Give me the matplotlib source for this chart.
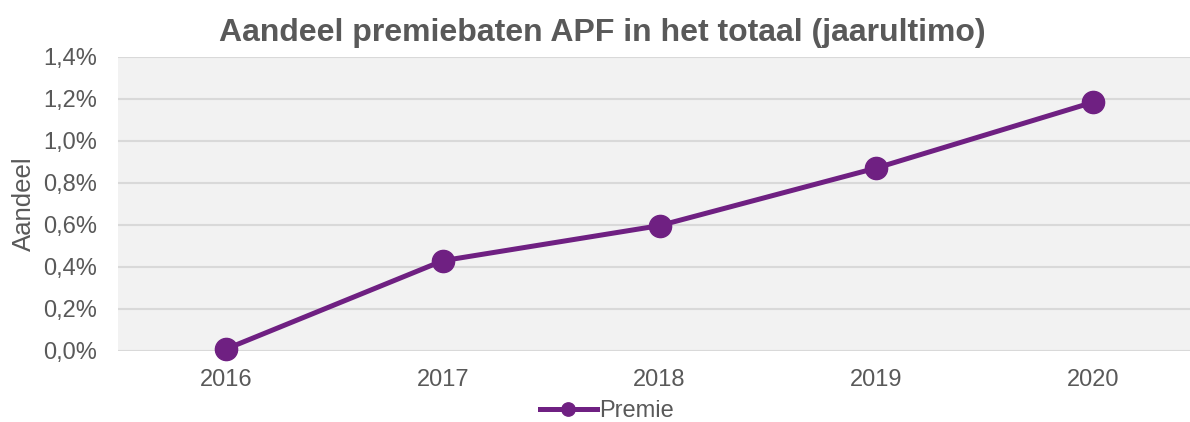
import matplotlib
matplotlib.use("Agg")
import matplotlib.pyplot as plt
from matplotlib.ticker import FuncFormatter

years = ["2016", "2017", "2018", "2019", "2020"]
premie = [0.01, 0.43, 0.597, 0.871, 1.184]
yticks = [0.0, 0.2, 0.4, 0.6, 0.8, 1.0, 1.2, 1.4]

plt.rcParams['font.family'] = ['Liberation Sans', 'DejaVu Sans']
grey = "#595959"
purple = "#6f2082"

fig = plt.figure(figsize=(11.9, 4.22), dpi=100)
ax = fig.add_axes([118/1190, 71/422, 1083/1190, 294/422])
ax.set_facecolor("#f2f2f2")

x = list(range(len(years)))
ax.plot(x, premie, color=purple, lw=3.6, marker="o", ms=16, label="Premie", zorder=3, clip_on=False)

ax.set_xlim(-0.5, len(years) - 0.5)
ax.set_ylim(0, 1.4)
ax.set_yticks(yticks)
ax.yaxis.set_major_formatter(FuncFormatter(lambda v, p: f"{v:.1f}%".replace(".", ",")))
ax.set_xticks(x)
ax.set_xticklabels(years)
ax.grid(axis="y", color="#d9d9d9", lw=1.5)
ax.set_axisbelow(True)
for s in ax.spines.values():
    s.set_visible(False)
ax.tick_params(length=0, labelsize=17, colors=grey)
ax.tick_params(axis="y", pad=15)
ax.tick_params(axis="x", pad=13)
ax.set_ylabel("Aandeel", fontsize=18.5, color=grey, labelpad=5)

fig.text(602/1190, 1 - 33/422, "Aandeel premiebaten APF in het totaal (jaarultimo)",
         ha="center", va="center", fontsize=23, fontweight="bold", color=grey)

leg = fig.legend(loc="center", bbox_to_anchor=(607/1190, 1 - 411/422), frameon=False,
                 fontsize=17, handlelength=2.4, handletextpad=0.1, markerscale=0.6)
for t in leg.get_texts():
    t.set_color(grey)

fig.savefig("out.png", dpi=100)
